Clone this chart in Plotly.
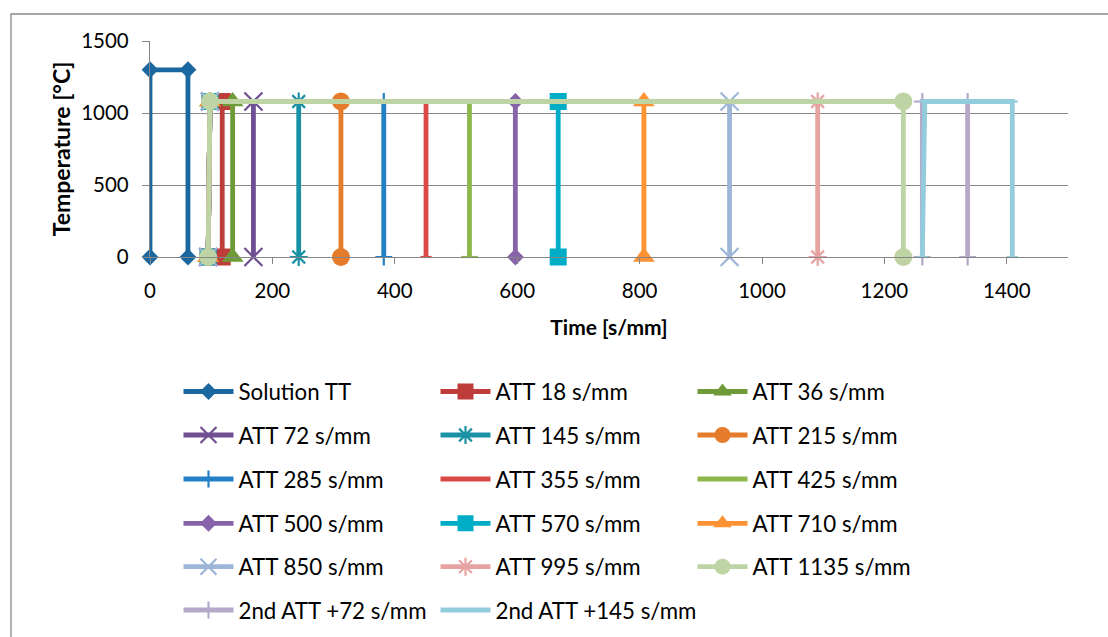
import plotly.graph_objects as go

# ---------------- data ----------------
series_names = [
    "Solution TT", "ATT 18 s/mm", "ATT 36 s/mm",
    "ATT 72 s/mm", "ATT 145 s/mm", "ATT 215 s/mm",
    "ATT 285 s/mm", "ATT 355 s/mm", "ATT 425 s/mm",
    "ATT 500 s/mm", "ATT 570 s/mm", "ATT 710 s/mm",
    "ATT 850 s/mm", "ATT 995 s/mm", "ATT 1135 s/mm",
    "2nd ATT +72 s/mm", "2nd ATT +145 s/mm",
]

solution_x = [0, 0, 62, 62]
solution_y = [0, 1300, 1300, 0]

att_start_bottom = 95
att_start_top = 98
att_level = 1080
att_end = [118, 135, 169, 243, 312, 382, 451, 522, 597, 667, 807, 947, 1091, 1231]

second72_x = [1262, 1262, 1336, 1336]
second72_y = [0, 1080, 1080, 0]
second145_x = [1262, 1266, 1409, 1409]
second145_y = [0, 1080, 1080, 0]

x_ticks = [0, 200, 400, 600, 800, 1000, 1200, 1400]
y_ticks = [0, 500, 1000, 1500]

# ---------------- styles ----------------
colors = [
    "#1B679F", "#BE3C3A", "#6E9A38",
    "#6F4F92", "#1A91A5", "#E57C2C",
    "#2480C4", "#D94A47", "#8DB749",
    "#8763A9", "#00ADC6", "#FF9233",
    "#9DB6D8", "#E6A3A2", "#BFD4A4",
    "#B6A8C9", "#93CDDD",
]
symbols = [
    "diamond", "square", "triangle-up",
    "x-thin", "asterisk", "circle",
    "cross-thin", "line-ew", "line-ew",
    "diamond", "square", "triangle-up",
    "x-thin", "asterisk", "circle",
    "cross-thin", "line-ew",
]
sizes = [13, 17, 19, 18, 15, 18, 12, 8, 12, 13, 17, 19, 18, 15, 18, 12, 8]

FONT = "Lato"

# build x/y lists for each series
xs = [solution_x]
ys = [solution_y]
for e in att_end:
    xs.append([att_start_bottom, att_start_top, e, e])
    ys.append([0, att_level, att_level, 0])
xs.append(second72_x)
ys.append(second72_y)
xs.append(second145_x)
ys.append(second145_y)

fig = go.Figure()
legend_ids = ["legend", "legend2", "legend3", "legend4", "legend5", "legend6"]
for i, name in enumerate(series_names):
    thin = symbols[i] in ("x-thin", "asterisk", "cross-thin", "line-ew")
    fig.add_trace(go.Scatter(
        x=xs[i], y=ys[i], name=name, mode="lines+markers",
        line=dict(color=colors[i], width=4.8),
        marker=dict(symbol=symbols[i], size=sizes[i], color=colors[i],
                    line=dict(color=colors[i], width=2.2 if thin else 0)),
        legend=legend_ids[i // 3],
        legendwidth=240 if i == len(series_names) - 1 else None,
        cliponaxis=False,
        hoverinfo="x+y+name",
    ))

W, H = 1108, 637
ML, MR, MT, MB = 150, 40, 41, 380
pw = W - ML - MR
ph = H - MT - MB

def px_to_paper_x(px):
    return (px - ML) / pw

def py_to_paper_y(py):
    return (H - MB - py) / ph

row_centers = [391.5, 435, 479, 523.3, 566.7, 610]
legend_layout = {}
for k, lid in enumerate(legend_ids):
    legend_layout[lid] = dict(
        orientation="h",
        x=px_to_paper_x(178.5), xanchor="left",
        y=py_to_paper_y(row_centers[k]), yanchor="middle",
        entrywidth=192, entrywidthmode="pixels",
        itemwidth=50,
        font=dict(family=FONT, size=22.3, color="#000000"),
        bgcolor="rgba(0,0,0,0)",
        borderwidth=0,
        tracegroupgap=0,
        itemclick=False, itemdoubleclick=False,
    )

fig.update_layout(
    width=W, height=H,
    margin=dict(l=ML, r=MR, t=MT, b=MB, pad=0, autoexpand=False),
    paper_bgcolor="white", plot_bgcolor="white",
    font=dict(family=FONT, size=20.5, color="#000000"),
    showlegend=True,
    **legend_layout,
    xaxis=dict(
        range=[0, 1500], tickvals=x_ticks, ticktext=[str(v) for v in x_ticks],
        showgrid=False, zeroline=False, automargin=False,
        showline=True, linecolor="#868686", linewidth=1.3,
        ticks="outside", ticklen=6, tickcolor="#868686", tickwidth=1.3,
        tickfont=dict(family=FONT, size=20.5),
        ticklabelstandoff=9,
        title=dict(text="<b>Time [s/mm]</b>", font=dict(family=FONT, size=21),
                   standoff=19),
    ),
    yaxis=dict(
        range=[0, 1500], tickvals=y_ticks, ticktext=[str(v) for v in y_ticks],
        showgrid=True, gridcolor="#868686", gridwidth=1.3,
        zeroline=False, automargin=False,
        showline=True, linecolor="#868686", linewidth=1.3,
        ticks="outside", ticklen=7, tickcolor="#868686", tickwidth=1.3,
        tickfont=dict(family=FONT, size=20.5),
        ticklabelstandoff=9,
        title=dict(text="<b>Temperature [°C]</b>", font=dict(family=FONT, size=23),
                   standoff=4),
    ),
    shapes=[dict(
        type="rect", xref="paper", yref="paper", layer="below",
        x0=px_to_paper_x(11), x1=px_to_paper_x(1140),
        y0=py_to_paper_y(700), y1=py_to_paper_y(14),
        line=dict(color="#898989", width=1.3), fillcolor="rgba(0,0,0,0)",
    )],
)

fig.write_html("out.html",
               config={"displayModeBar": False},
               post_script="document.body.style.margin='0px';")
